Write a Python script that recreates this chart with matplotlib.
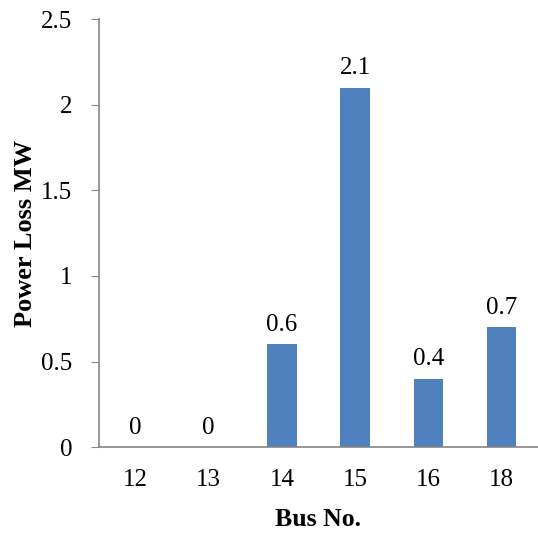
import matplotlib
matplotlib.use("Agg")
import matplotlib.pyplot as plt

buses = ["12", "13", "14", "15", "16", "18"]
loss_mw = [0, 0, 0.6, 2.1, 0.4, 0.7]

plt.rcParams["font.family"] = ["Liberation Serif", "DejaVu Serif"]

fig = plt.figure(figsize=(5.38, 5.33), dpi=100)
ax = fig.add_axes([0.184, 0.161, 0.816, 0.803])

x = range(len(buses))
bars = ax.bar(x, loss_mw, width=0.4, color="#4F81BD")
for xi, v in zip(x, loss_mw):
    ax.text(xi, v + 0.05, f"{v:g}", ha="center", va="bottom", fontsize=18)

ax.set_xlim(-0.5, len(buses) - 0.5)
ax.set_ylim(0, 2.5)
ax.set_yticks([0, 0.5, 1, 1.5, 2, 2.5])
ax.set_yticklabels(["0", "0.5", "1", "1.5", "2", "2.5"])
ax.set_xticks(list(x))
ax.set_xticklabels(buses)
ax.tick_params(axis="x", length=0, labelsize=18, pad=16)
ax.tick_params(axis="y", length=6, color="#868686", labelsize=18, pad=13)

for s in ["top", "right"]:
    ax.spines[s].set_visible(False)
for s in ["left", "bottom"]:
    ax.spines[s].set_color("#868686")
    ax.spines[s].set_linewidth(1.2)

ax.set_xlabel("Bus No.", fontsize=18.5, fontweight="bold", labelpad=12)
ax.set_ylabel("Power Loss MW", fontsize=19, fontweight="bold", labelpad=3)

fig.savefig("out.png", dpi=100)
